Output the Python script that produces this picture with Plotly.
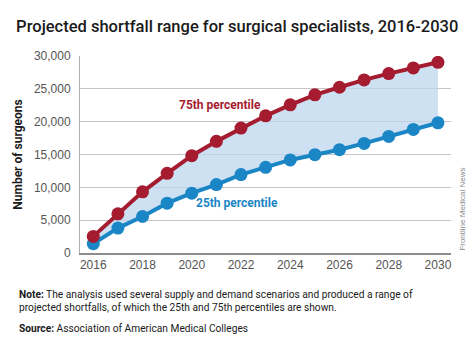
import plotly.graph_objects as go

years = list(range(2016, 2031))
p75 = [2530, 5970, 9310, 12140, 14820, 17000, 19020, 20890, 22560, 24080,
       25240, 26360, 27320, 28180, 29040]
p25 = [1420, 3790, 5560, 7590, 9110, 10420, 11940, 13050, 14170, 14970,
       15730, 16690, 17760, 18820, 19830]
x_ticks = [2016, 2018, 2020, 2022, 2024, 2026, 2028, 2030]
y_ticks = [0, 5000, 10000, 15000, 20000, 25000, 30000]

RED = "#a51c30"
BLUE = "#1b86c6"
FILL = "rgba(190,215,238,0.75)"
HEAD = "Roboto, Liberation Sans, sans-serif"
BODY = "Liberation Sans, Arial, sans-serif"

fig = go.Figure()

# shaded band between the two percentiles
fig.add_trace(go.Scatter(x=years, y=p25, mode="lines", line=dict(width=0),
                         hoverinfo="skip", showlegend=False))
fig.add_trace(go.Scatter(x=years, y=p75, mode="lines", line=dict(width=0),
                         fill="tonexty", fillcolor=FILL,
                         hoverinfo="skip", showlegend=False))

# percentile lines
fig.add_trace(go.Scatter(x=years, y=p25, mode="lines+markers",
                         line=dict(color=BLUE, width=4),
                         marker=dict(color=BLUE, size=13),
                         showlegend=False))
fig.add_trace(go.Scatter(x=years, y=p75, mode="lines+markers",
                         line=dict(color=RED, width=4),
                         marker=dict(color=RED, size=13),
                         showlegend=False))

fig.update_layout(
    width=474, height=347,
    margin=dict(l=80, r=23, t=56, b=94),
    paper_bgcolor="white", plot_bgcolor="white",
    showlegend=False,
    title=dict(text="Projected shortfall range for surgical specialists, 2016-2030",
               x=0.034, xanchor="left", y=0.925, yanchor="middle",
               font=dict(family=HEAD, size=16.5, weight=500, color="#1a1a1a")),
    xaxis=dict(range=[2015.46, 2030.53], tickvals=x_ticks,
               ticktext=[str(v) for v in x_ticks],
               showgrid=False, zeroline=False,
               showline=True, linecolor="#8c8c8c", linewidth=2,
               ticks="", tickfont=dict(family=BODY, size=12, color="#555555")),
    yaxis=dict(range=[0, 30000], tickvals=y_ticks,
               ticktext=[f"{v:,}" for v in y_ticks],
               showgrid=True, gridcolor="#c4c4c4", gridwidth=1,
               zeroline=False, showline=True, linecolor="#b0b0b0", linewidth=1,
               ticks="", ticklabelstandoff=6,
               tickfont=dict(family=BODY, size=12, color="#555555"),
               title=dict(text="Number of surgeons", standoff=8,
                          font=dict(family=HEAD, size=12, weight=700, color="#1a1a1a"))),
)

fig.add_annotation(x=2021.15, y=22500, text="75th percentile", showarrow=False,
                   font=dict(family=HEAD, size=12, weight=700, color=RED))
fig.add_annotation(x=2021.85, y=7600, text="25th percentile", showarrow=False,
                   font=dict(family=HEAD, size=12, weight=700, color=BLUE))

fig.add_annotation(xref="paper", yref="paper", x=1.03, y=0.0, xanchor="center",
                   yanchor="bottom", textangle=-90, showarrow=False,
                   text="Frontline Medical News",
                   font=dict(family=BODY, size=8, color="#8a8a8a"))

note_font = dict(family=HEAD, size=10.2, color="#1a1a1a")
fig.add_annotation(xref="paper", yref="paper", x=-0.17, y=-0.175, xanchor="left",
                   yanchor="top", align="left", showarrow=False, font=note_font,
                   text="<b>Note:</b> The analysis used several supply and demand scenarios and produced a range of<br>"
                        "projected shortfalls, of which the 25th and 75th percentiles are shown.")
fig.add_annotation(xref="paper", yref="paper", x=-0.17, y=-0.345, xanchor="left",
                   yanchor="top", align="left", showarrow=False, font=note_font,
                   text="<b>Source:</b> Association of American Medical Colleges")

fig.write_html("out.html")
